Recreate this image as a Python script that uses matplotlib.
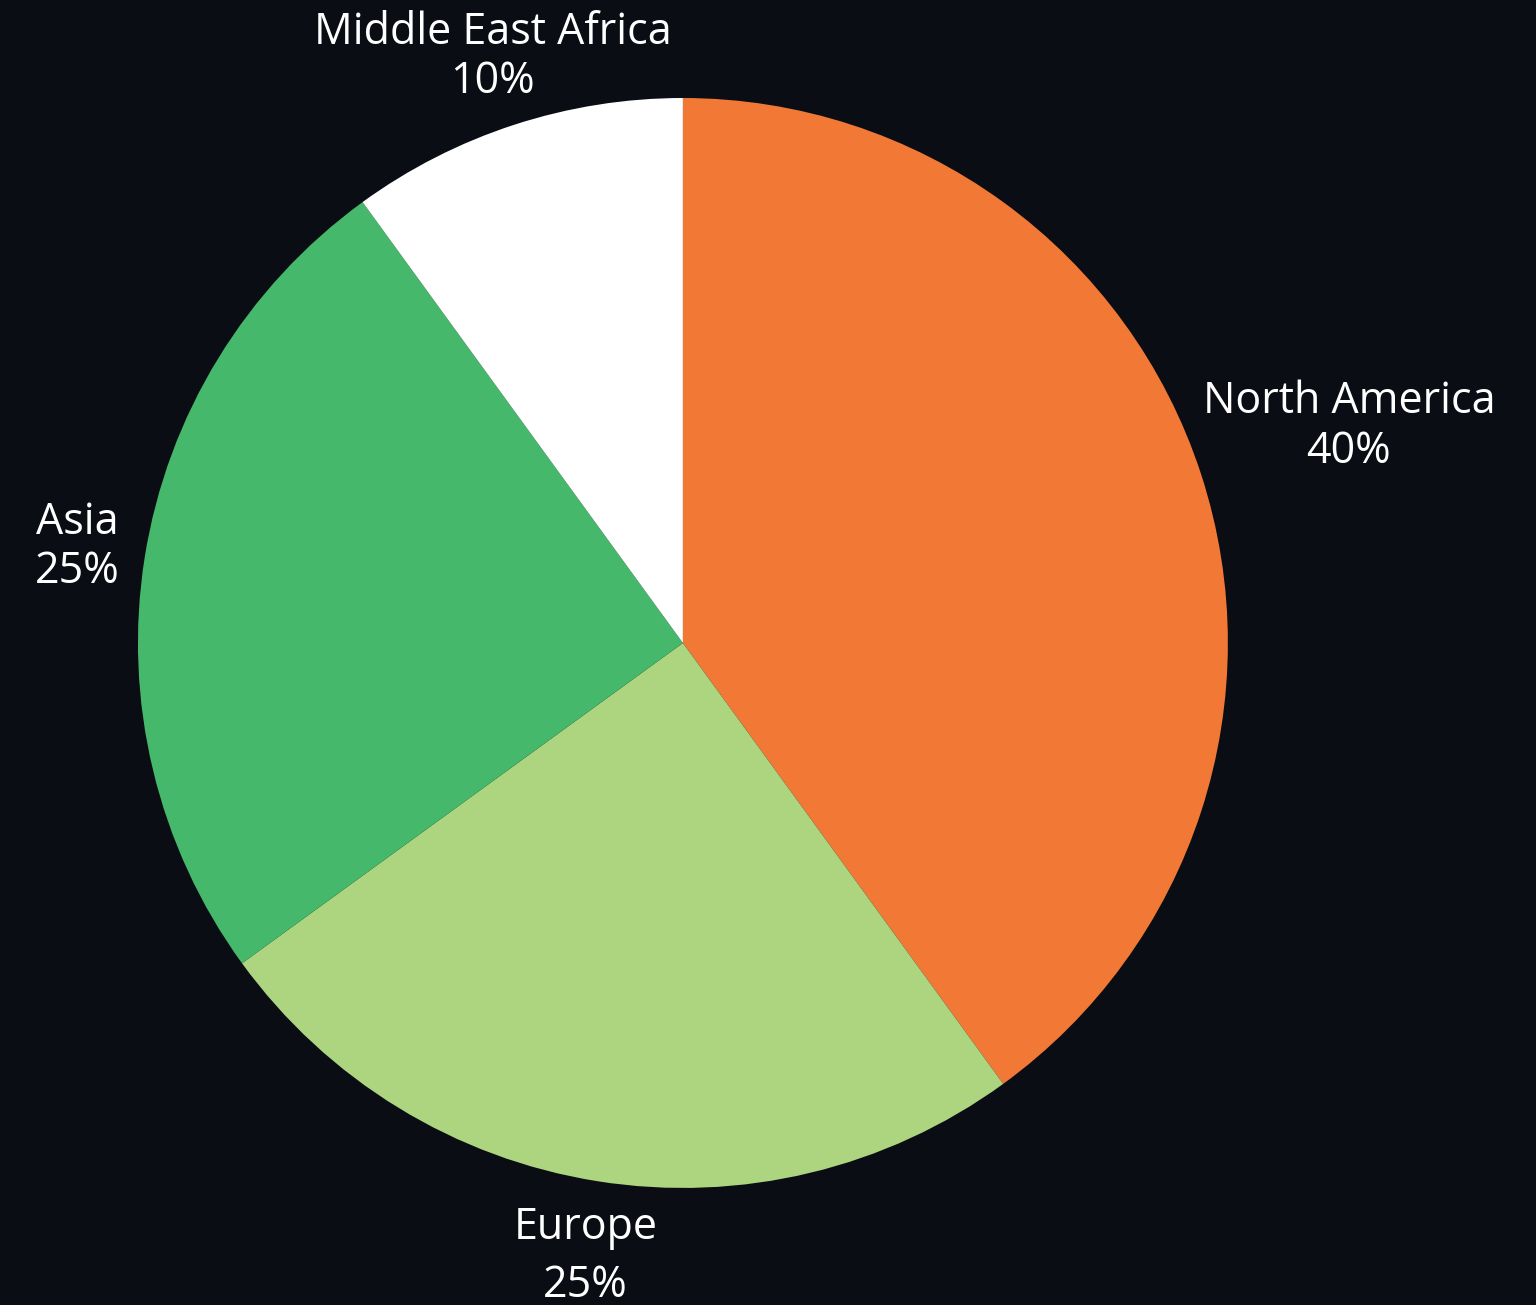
import numpy as np
import matplotlib.pyplot as plt

# Data
regions = ['North America', 'Europe', 'Asia', 'Middle East Africa']
shares = [40, 25, 25, 10]
colors = ['#f27935', '#add580', '#45b86b', '#ffffff']
label_dist = [1.285, 1.14, 1.125, 1.13]
line_gap = [1.15, 1.4, 1.15, 1.15]

bg = '#0a0d14'
plt.rcParams['font.family'] = ['Open Sans', 'DejaVu Sans']

fig = plt.figure(figsize=(15.36, 13.05), dpi=100, facecolor=bg)
ax = fig.add_axes([0.0898, 0.0897, 0.7096, 0.8352])
ax.set_facecolor(bg)

wedges, _ = ax.pie(shares, colors=colors, startangle=90, counterclock=False,
                   radius=1.0, wedgeprops=dict(linewidth=0))

# Labels: centred text at the middle angle of each wedge
for w, name, val, d, ls in zip(wedges, regions, shares, label_dist, line_gap):
    ang = np.deg2rad((w.theta1 + w.theta2) / 2)
    ax.text(d * np.cos(ang), d * np.sin(ang), '{}\n{}%'.format(name, val),
            ha='center', va='center', color='white', fontsize=31,
            linespacing=ls)

ax.set_xlim(-1, 1)
ax.set_ylim(-1, 1)
ax.set_aspect('equal')
ax.axis('off')

fig.savefig('out.png', dpi=100, facecolor=bg)
